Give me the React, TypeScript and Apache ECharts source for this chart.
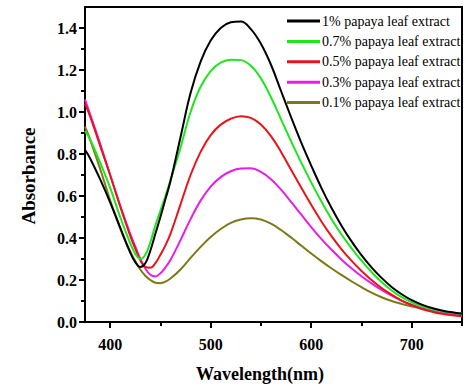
import React, { useEffect, useRef } from "react";
import * as echarts from "echarts";

const wavelengths = [375, 380, 390, 400, 410, 420, 425, 430, 435, 440, 445, 450, 455, 460, 470, 480, 490, 500, 510, 520, 530, 540, 550, 560, 570, 580, 590, 600, 610, 620, 630, 640, 650, 660, 670, 680, 690, 700, 710, 720, 730, 740, 750];

const abs1 = [0.82, 0.78, 0.68, 0.57, 0.45, 0.33, 0.285, 0.262, 0.28, 0.34, 0.42, 0.5, 0.585, 0.67, 0.88, 1.09, 1.24, 1.34, 1.4, 1.427, 1.431, 1.395, 1.325, 1.225, 1.1, 0.975, 0.855, 0.745, 0.64, 0.545, 0.46, 0.385, 0.318, 0.26, 0.21, 0.167, 0.132, 0.104, 0.083, 0.067, 0.055, 0.046, 0.039];
const abs07 = [0.91, 0.87, 0.76, 0.64, 0.5, 0.375, 0.325, 0.3, 0.32, 0.38, 0.46, 0.53, 0.6, 0.675, 0.83, 1.0, 1.12, 1.195, 1.235, 1.249, 1.247, 1.22, 1.16, 1.07, 0.965, 0.86, 0.76, 0.665, 0.575, 0.492, 0.418, 0.352, 0.292, 0.238, 0.19, 0.15, 0.118, 0.094, 0.075, 0.061, 0.051, 0.044, 0.038];
const abs05 = [1.04, 0.98, 0.84, 0.7, 0.55, 0.41, 0.35, 0.295, 0.262, 0.258, 0.28, 0.32, 0.365, 0.42, 0.56, 0.7, 0.81, 0.89, 0.94, 0.968, 0.98, 0.972, 0.94, 0.885, 0.81, 0.725, 0.64, 0.558, 0.48, 0.41, 0.347, 0.292, 0.243, 0.2, 0.162, 0.13, 0.102, 0.08, 0.062, 0.049, 0.039, 0.032, 0.027];
const abs03 = [1.06, 0.99, 0.85, 0.7, 0.555, 0.42, 0.36, 0.3, 0.255, 0.225, 0.217, 0.232, 0.26, 0.295, 0.39, 0.49, 0.578, 0.645, 0.69, 0.718, 0.731, 0.732, 0.715, 0.68, 0.63, 0.572, 0.512, 0.452, 0.396, 0.345, 0.298, 0.256, 0.218, 0.184, 0.153, 0.126, 0.102, 0.082, 0.066, 0.054, 0.045, 0.038, 0.033];
const abs01 = [0.93, 0.87, 0.73, 0.58, 0.445, 0.335, 0.29, 0.25, 0.22, 0.2, 0.187, 0.185, 0.192, 0.207, 0.25, 0.305, 0.358, 0.405, 0.443, 0.472, 0.488, 0.494, 0.488, 0.468, 0.438, 0.402, 0.364, 0.326, 0.29, 0.256, 0.224, 0.194, 0.166, 0.14, 0.118, 0.1, 0.086, 0.074, 0.064, 0.056, 0.05, 0.045, 0.04];

const seriesNames = ["1% papaya leaf extract", "0.7% papaya leaf extract", "0.5% papaya leaf extract", "0.3% papaya leaf extract", "0.1% papaya leaf extract"];
const seriesValues = [abs1, abs07, abs05, abs03, abs01];
const seriesColors = ["#000000", "#1ee61e", "#e8141c", "#e61ee6", "#7d7a14"];

const xMajorTicks = [400, 500, 600, 700];
const xMinorTicks = [450, 550, 650, 750];
const yMajorTicks = [0, 0.2, 0.4, 0.6, 0.8, 1.0, 1.2, 1.4];
const yMinorTicks = [0.1, 0.3, 0.5, 0.7, 0.9, 1.1, 1.3];

const FONT = "'Liberation Serif', 'Times New Roman', serif";

export default function App() {
  const ref = useRef<HTMLDivElement>(null);
  useEffect(() => {
    if (!ref.current) return;
    const chart = echarts.init(ref.current, null, { renderer: "svg" });
    const axisLineStyle = { color: "#000", width: 2 };
    const labelStyle = { color: "#000", fontFamily: FONT, fontWeight: "bold" as const, fontSize: 16 };
    const series = seriesValues
      .map((vals, i) => ({
        name: seriesNames[i],
        type: "line" as const,
        xAxisIndex: 0,
        yAxisIndex: 0,
        data: wavelengths.map((w, j) => [w, vals[j]]),
        showSymbol: false,
        symbol: "none",
        smooth: 0.4,
        lineStyle: { color: seriesColors[i], width: 2 },
        itemStyle: { color: seriesColors[i] },
        z: 10 - i,
      }))
      .reverse();
    chart.setOption({
      animation: false,
      backgroundColor: "#fff",
      grid: { left: 85, right: 12, top: 7, bottom: 65, show: true, borderColor: "#000", borderWidth: 2, backgroundColor: "transparent" },
      legend: {
        data: seriesNames,
        orient: "vertical",
        left: 287,
        top: 14,
        icon: "rect",
        itemWidth: 33,
        itemHeight: 3,
        itemGap: 6.4,
        padding: 0,
        textStyle: { fontFamily: FONT, fontSize: 14, color: "#000", padding: [0, 0, 0, -3] },
      },
      xAxis: [
        {
          type: "value",
          min: 375,
          max: 750,
          position: "bottom",
          axisLine: { show: true, lineStyle: axisLineStyle },
          axisTick: { show: true, customValues: xMajorTicks, length: 6, lineStyle: axisLineStyle },
          axisLabel: { show: true, customValues: xMajorTicks, margin: 14, ...labelStyle },
          splitLine: { show: false },
        },
        {
          type: "value",
          min: 375,
          max: 750,
          position: "bottom",
          axisLine: { show: false },
          axisTick: { show: true, customValues: xMinorTicks, length: 4, lineStyle: axisLineStyle },
          axisLabel: { show: false },
          splitLine: { show: false },
        },
      ],
      yAxis: [
        {
          type: "value",
          min: 0,
          max: 1.5,
          position: "left",
          axisLine: { show: true, lineStyle: axisLineStyle },
          axisTick: { show: true, customValues: yMajorTicks, length: 6, lineStyle: axisLineStyle },
          axisLabel: { show: true, customValues: yMajorTicks, margin: 8, formatter: (v: number) => v.toFixed(1), ...labelStyle },
          splitLine: { show: false },
        },
        {
          type: "value",
          min: 0,
          max: 1.5,
          position: "left",
          axisLine: { show: false },
          axisTick: { show: true, customValues: yMinorTicks, length: 4, lineStyle: axisLineStyle },
          axisLabel: { show: false },
          splitLine: { show: false },
        },
      ],
      graphic: [
        {
          type: "text",
          x: 260,
          y: 374,
          style: { text: "Wavelength(nm)", fontFamily: FONT, fontWeight: "bold", fontSize: 18, fill: "#000", textAlign: "center", textVerticalAlign: "middle" },
        },
        {
          type: "text",
          x: 28,
          y: 176,
          rotation: Math.PI / 2,
          style: { text: "Absorbance", fontFamily: FONT, fontWeight: "bold", fontSize: 19, fill: "#000", textAlign: "center", textVerticalAlign: "middle" },
        },
      ],
      series,
    });
    return () => chart.dispose();
  }, []);
  return <div ref={ref} style={{ position: "fixed", left: 0, top: 0, width: 474, height: 387 }} />;
}
